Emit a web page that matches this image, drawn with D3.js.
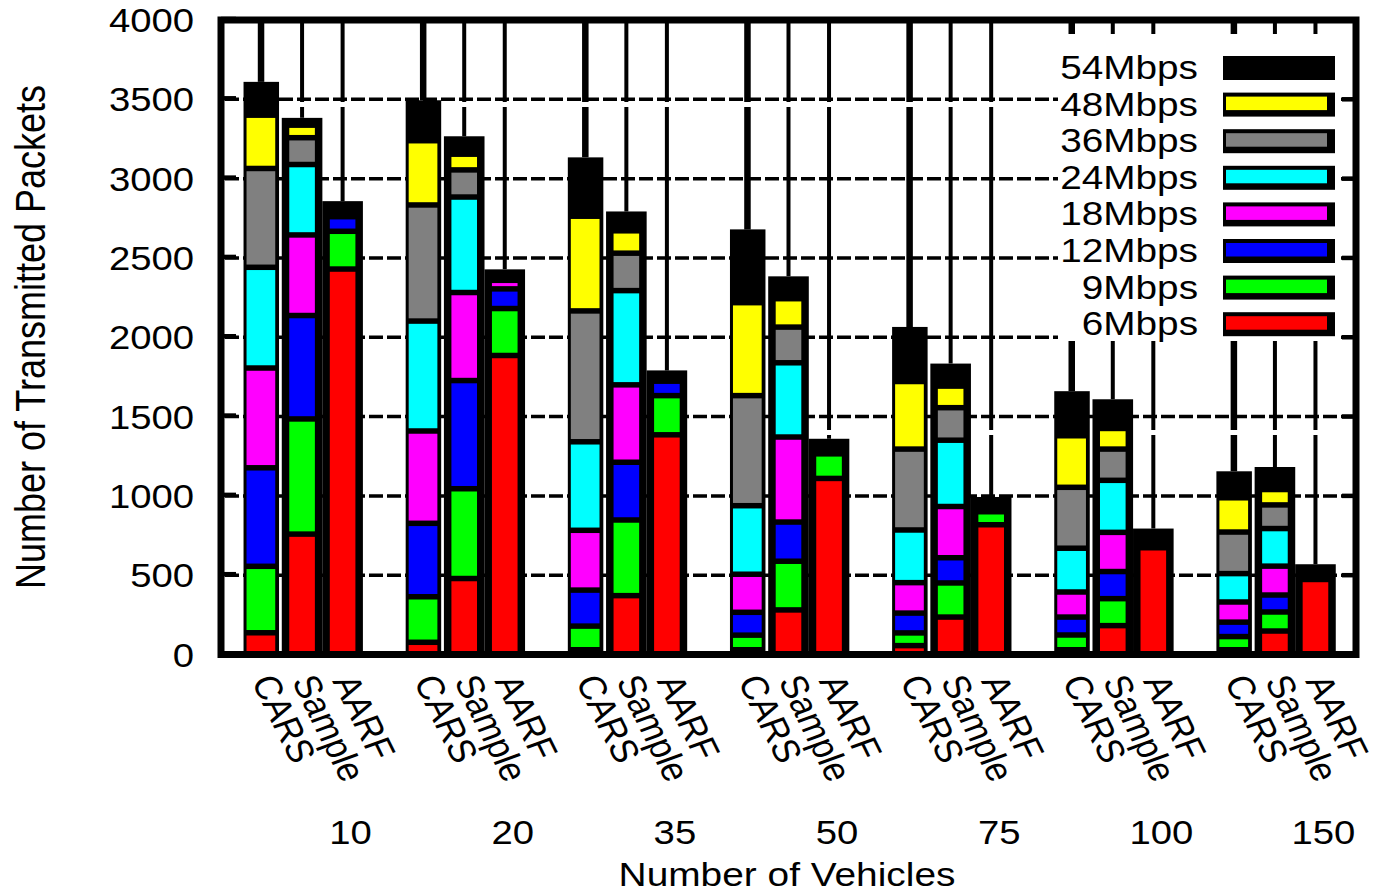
<!DOCTYPE html>
<html>
<head>
<meta charset="utf-8">
<script src="https://cdn.jsdelivr.net/npm/d3@7"></script>
<style>
  html, body { margin: 0; padding: 0; background: #ffffff; }
  svg { display: block; }
  text { font-family: "Liberation Sans", Arial, Helvetica, sans-serif; fill: #000; }
</style>
</head>
<body>
<svg id="chart" width="1377" height="893"></svg>
<script>
// Vehicle counts (one histogram group each) and the three rate-adaptation schemes
const groups = ["10", "20", "35", "50", "75", "100", "150"];
const schemes = ["CARS", "Sample", "AARF"];

// Stack order, bottom to top
const rates = ["6Mbps", "9Mbps", "12Mbps", "18Mbps", "24Mbps", "36Mbps", "48Mbps", "54Mbps"];
const rateColors = ["#ff0000", "#00ff00", "#0000ff", "#ff00ff", "#00ffff", "#808080", "#ffff00", "#000000"];

const yTicks = [0, 500, 1000, 1500, 2000, 2500, 3000, 3500, 4000];

// Transmitted packets per rate; bar order is CARS, Sample, AARF for each vehicle count
const pkt6  = [137, 759, 2430,   77, 479, 1885,   30, 371, 1385,   30, 281, 1110,   56, 236, 818,   30, 182, 673,   30, 148, 473];
const pkt9  = [419, 726,  238,  287, 566,  296,  149, 477,  247,   92, 307,  155,   80, 215,  82,   93, 170,   0,   83, 120,   0];
const pkt12 = [621, 652,   92,  463, 682,  124,  227, 364,   91,  144, 247,    0,  125, 159,   0,  113, 171,   0,   91, 107,   0];
const pkt18 = [629, 508,    0,  582, 555,   54,  377, 488,    0,  240, 536,    0,  192, 323,   0,  158, 247,   0,  127, 182,   0];
const pkt24 = [635, 444,    0,  693, 602,    0,  558, 594,    0,  432, 468,    0,  332, 418,   0,  276, 328,   0,  179, 237,   0];
const pkt36 = [623, 169,    0,  732, 171,    0,  825, 236,    0,  694, 225,    0,  510, 205,   0,  384, 197,   0,  262, 149,   0];
const pkt48 = [336,  79,    0,  405,  99,    0,  597, 141,    0,  586, 179,    0,  426, 136,   0,  325, 130,   0,  216,  97,   0];
const pkt54 = [210,  46,   98,  255, 113,   69,  371, 122,   68,  462, 141,   95,  344, 142,  93,  281, 184, 121,  167, 142,  96];

const series = [pkt6, pkt9, pkt12, pkt18, pkt24, pkt36, pkt48, pkt54];

// One row per bar for d3.stack
const bars = [];
groups.forEach((g, gi) => {
  schemes.forEach((s, si) => {
    const idx = gi * schemes.length + si;
    const row = { group: g, scheme: s, slot: gi * 4 + si };
    rates.forEach((r, ri) => { row[r] = series[ri][idx]; });
    bars.push(row);
  });
});

const svg = d3.select("#chart");
const W = 1377, H = 893;
svg.append("rect").attr("width", W).attr("height", H).attr("fill", "#fff");

const plot = { left: 221, right: 1356, top: 20, bottom: 654.5 };

// Each group takes four bar slots (three bars plus a blank one)
const x = d3.scaleLinear().domain([-1, 27]).range([plot.left, plot.right]);
const y = d3.scaleLinear().domain([0, 4000]).range([plot.bottom, plot.top]);

const stack = d3.stack().keys(rates);
const layers = stack(bars);

const totals = bars.map(b => d3.sum(rates, r => b[r]));

const textScaleX = 1.16;

// Horizontal dashed grid
svg.append("g")
  .selectAll("line")
  .data(yTicks.filter(v => v > 0 && v < 4000))
  .join("line")
  .attr("x1", plot.left).attr("x2", plot.right)
  .attr("y1", d => y(d)).attr("y2", d => y(d))
  .attr("stroke", "#000").attr("stroke-width", 3.5)
  .attr("stroke-dasharray", "14,4").attr("stroke-dashoffset", 14);

// Vertical grid lines above every bar
svg.append("g")
  .selectAll("line")
  .data(bars)
  .join("line")
  .attr("x1", d => x(d.slot) - (d.scheme === "CARS" ? 0.5 : 0))
  .attr("x2", d => x(d.slot) - (d.scheme === "CARS" ? 0.5 : 0))
  .attr("y1", y(4000))
  .attr("y2", (d, i) => y(totals[i]))
  .attr("stroke", "#000")
  .attr("stroke-width", d => d.scheme === "CARS" ? 6.5 : 4)
  .attr("stroke-dasharray", "82,5,323,5,2000");

// Bar geometry: outer black body and inset colour fill
function outer(d) {
  const c = x(d.slot);
  return d.scheme === "CARS" ? [c - 18, c + 17.5] : [c - 20.3, c + 20.3];
}
function inner(d) {
  const c = x(d.slot);
  return d.scheme === "CARS" ? [c - 15, c + 13.7] : [c - 12.8, c + 12.8];
}

const barG = svg.append("g");
barG.selectAll("rect.body")
  .data(bars)
  .join("rect")
  .attr("class", "body")
  .attr("x", d => outer(d)[0])
  .attr("width", d => outer(d)[1] - outer(d)[0])
  .attr("y", (d, i) => y(totals[i]))
  .attr("height", (d, i) => y(0) - y(totals[i]))
  .attr("fill", "#000");

const inset = 2.75;
layers.forEach((layer, li) => {
  if (rateColors[li] === "#000000") return;
  barG.append("g")
    .selectAll("rect")
    .data(layer.filter(seg => (y(seg[0]) - y(seg[1])) > 2 * inset + 0.5))
    .join("rect")
    .attr("x", seg => inner(seg.data)[0])
    .attr("width", seg => inner(seg.data)[1] - inner(seg.data)[0])
    .attr("y", seg => y(seg[1]) + inset)
    .attr("height", seg => y(seg[0]) - y(seg[1]) - 2 * inset)
    .attr("fill", rateColors[li]);
});

// Legend, on an opaque white panel
const legend = svg.append("g");
legend.append("rect")
  .attr("x", 1058).attr("y", 34).attr("width", 283).attr("height", 307)
  .attr("fill", "#fff");
const legendRows = rates.slice().reverse();
const legendColors = rateColors.slice().reverse();
legendRows.forEach((r, i) => {
  const cy = 67 + i * 36.6;
  legend.append("text")
    .attr("transform", `translate(1198,${cy + 12}) scale(${textScaleX},1)`)
    .attr("text-anchor", "end")
    .attr("font-size", 33.4)
    .text(r);
  legend.append("rect")
    .attr("x", 1223).attr("y", cy - 11).attr("width", 112).attr("height", 24)
    .attr("fill", "#000");
  if (legendColors[i] !== "#000000") {
    legend.append("rect")
      .attr("x", 1226).attr("y", cy - 7).attr("width", 101).attr("height", 13.5)
      .attr("fill", legendColors[i]);
  }
});

// Axis ticks on the left and right frame edges
const tickG = svg.append("g");
tickG.selectAll("line.l")
  .data(yTicks)
  .join("line")
  .attr("x1", plot.left).attr("x2", plot.left + 15)
  .attr("y1", d => y(d) - 1).attr("y2", d => y(d) - 1)
  .attr("stroke", "#000").attr("stroke-width", 4.5);
tickG.selectAll("line.r")
  .data(yTicks)
  .join("line")
  .attr("x1", plot.right - 14).attr("x2", plot.right)
  .attr("y1", d => y(d)).attr("y2", d => y(d))
  .attr("stroke", "#000").attr("stroke-width", 4.5);

// Frame
svg.append("rect")
  .attr("x", plot.left).attr("y", plot.top)
  .attr("width", plot.right - plot.left).attr("height", plot.bottom - plot.top)
  .attr("fill", "none").attr("stroke", "#000").attr("stroke-width", 7);

// Y tick labels
svg.append("g")
  .selectAll("text")
  .data(yTicks)
  .join("text")
  .attr("transform", d => `translate(194,${y(d) + 12}) scale(${textScaleX},1)`)
  .attr("text-anchor", "end")
  .attr("font-size", 33)
  .text(d => d);

// Rotated scheme labels under each bar
svg.append("g")
  .selectAll("text")
  .data(bars)
  .join("text")
  .attr("transform", d => `translate(${x(d.slot) - 10.5},681) scale(${textScaleX},1) rotate(67)`)
  .attr("text-anchor", "start")
  .attr("font-size", 33)
  .text(d => d.scheme);

// Vehicle-count labels
svg.append("g")
  .selectAll("text")
  .data(groups)
  .join("text")
  .attr("transform", (d, gi) => `translate(${x(gi * 4 + 2) + 8},844) scale(${textScaleX},1)`)
  .attr("text-anchor", "middle")
  .attr("font-size", 33)
  .text(d => d);

// Axis titles
svg.append("text")
  .attr("transform", `translate(787,886) scale(${textScaleX},1)`)
  .attr("text-anchor", "middle")
  .attr("font-size", 33.5)
  .text("Number of Vehicles");

svg.append("text")
  .attr("transform", `translate(45,337) scale(${textScaleX},1) rotate(-90)`)
  .attr("text-anchor", "middle")
  .attr("font-size", 36)
  .text("Number of Transmitted Packets");
</script>
</body>
</html>
